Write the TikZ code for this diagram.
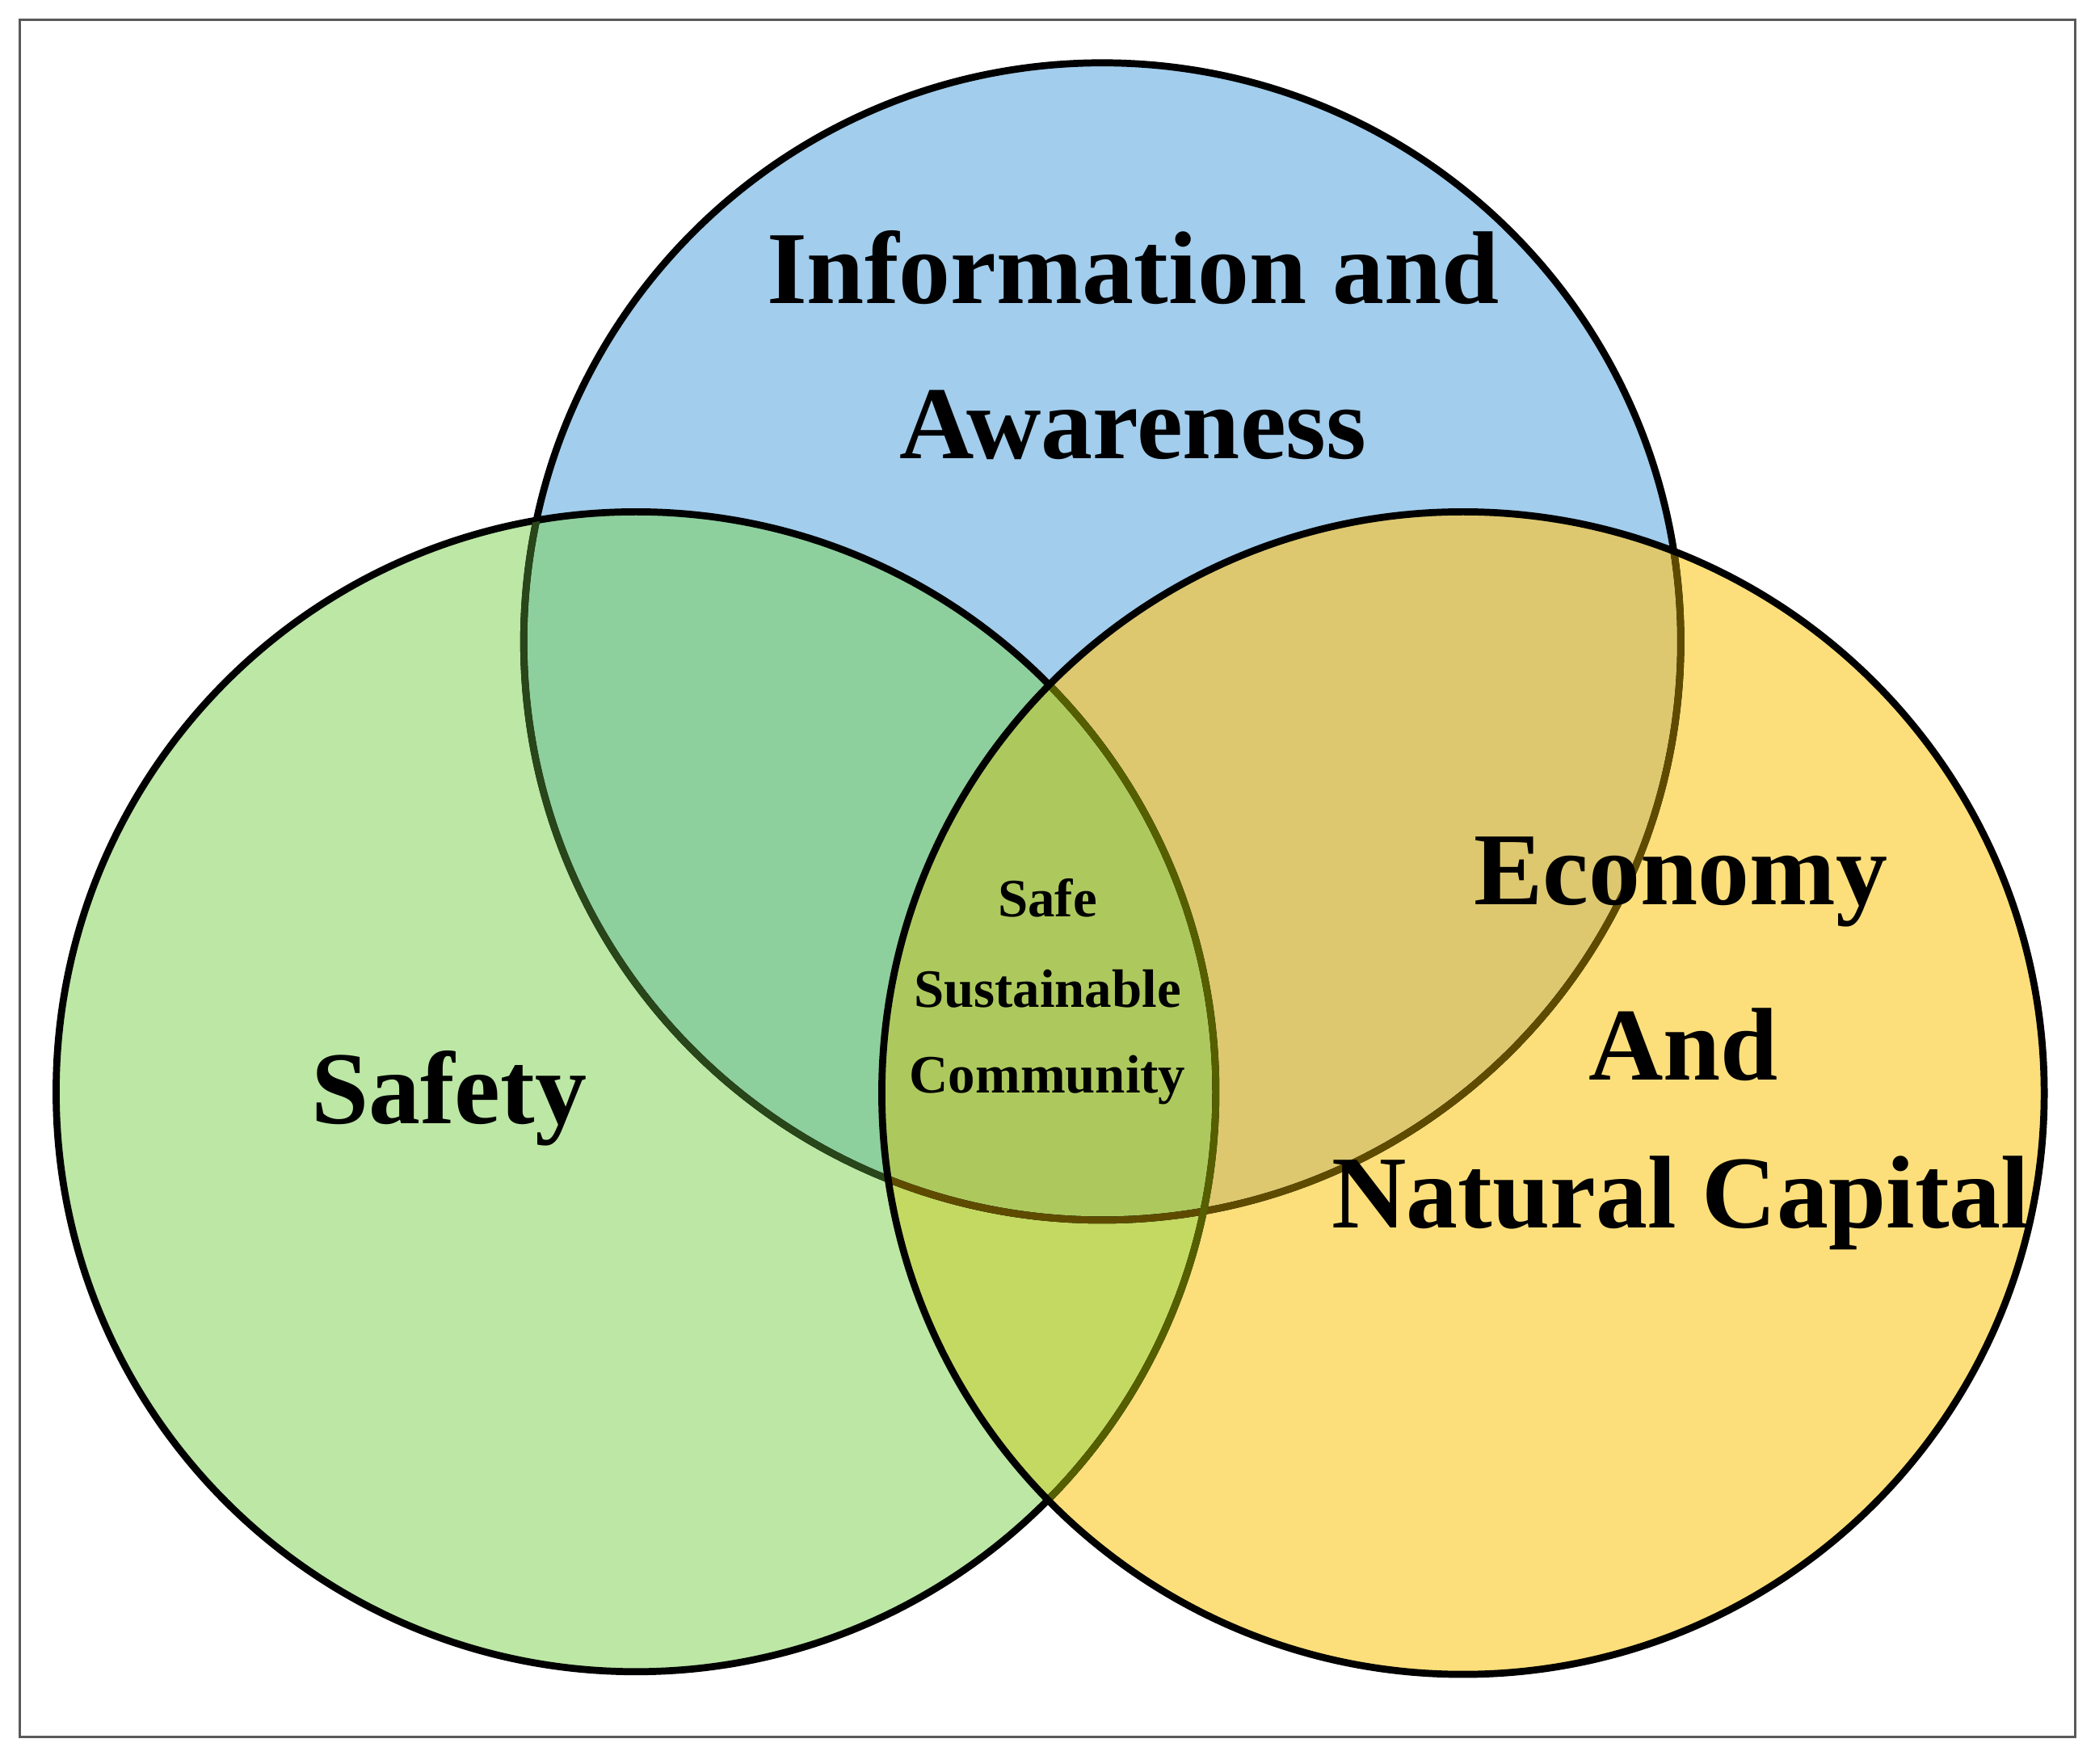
\documentclass[tikz,border=0pt]{standalone}
\usepackage{fontspec}
\setmainfont{Liberation Serif}
\begin{document}
\begin{tikzpicture}[x=0.01cm,y=-0.01cm,
  lbl/.style={font=\bfseries\fontsize{22}{26}\selectfont},
  sml/.style={font=\bfseries\fontsize{11.5}{14}\selectfont},
  ring/.style={draw=black,line width=1.5pt}]
\useasboundingbox (0,0) rectangle (1568,1320);
\draw[line width=0.5pt,gray!70!black] (15,15) rectangle (1553,1300);
\coordinate (B) at (825,480);
\coordinate (G) at (476,817);
\coordinate (Y) at (1095,818);
\def\rB{433}\def\rG{434}\def\rY{435}
\fill[fill={rgb,255:red,162;green,205;blue,236}] (B) circle (\rB);
\fill[fill={rgb,255:red,188;green,231;blue,165}] (G) circle (\rG);
\fill[fill={rgb,255:red,252;green,223;blue,123}] (Y) circle (\rY);
\begin{scope}
\clip (B) circle (\rB);
\fill[fill={rgb,255:red,142;green,207;blue,158}] (G) circle (\rG);
\fill[fill={rgb,255:red,221;green,200;blue,112}] (Y) circle (\rY);
\end{scope}
\begin{scope}
\clip (G) circle (\rG);
\fill[fill={rgb,255:red,196;green,217;blue,97}] (Y) circle (\rY);
\clip (B) circle (\rB);
\fill[fill={rgb,255:red,173;green,201;blue,94}] (Y) circle (\rY);
\end{scope}
\draw[ring] (B) circle (\rB);
\draw[ring] (G) circle (\rG);
\begin{scope}
\clip (G) circle (\rG-1);
\draw[ring,draw={rgb,255:red,40;green,70;blue,25}] (B) circle (\rB);
\end{scope}
\begin{scope}
\clip (Y) circle (\rY-1);
\draw[ring,draw={rgb,255:red,95;green,75;blue,0}] (B) circle (\rB);
\draw[ring,draw={rgb,255:red,85;green,95;blue,0}] (G) circle (\rG);
\end{scope}
\draw[ring] (Y) circle (\rY);
\node[lbl] (t1) at (848,200) {Information and};
\node[lbl] (t2) at (848,318) {Awareness};
\node[lbl] (s) at (336,822) {Safety};
\node[lbl] (e1) at (1258,660) {Economy};
\node[lbl] (e2) at (1260,782) {And};
\node[lbl] (e3) at (1258,900) {Natural Capital};
\node[sml] (c1) at (784,672) {Safe};
\node[sml] (c2) at (784,740) {Sustainable};
\node[sml] (c3) at (784,808) {Community};
\end{tikzpicture}
\end{document}
